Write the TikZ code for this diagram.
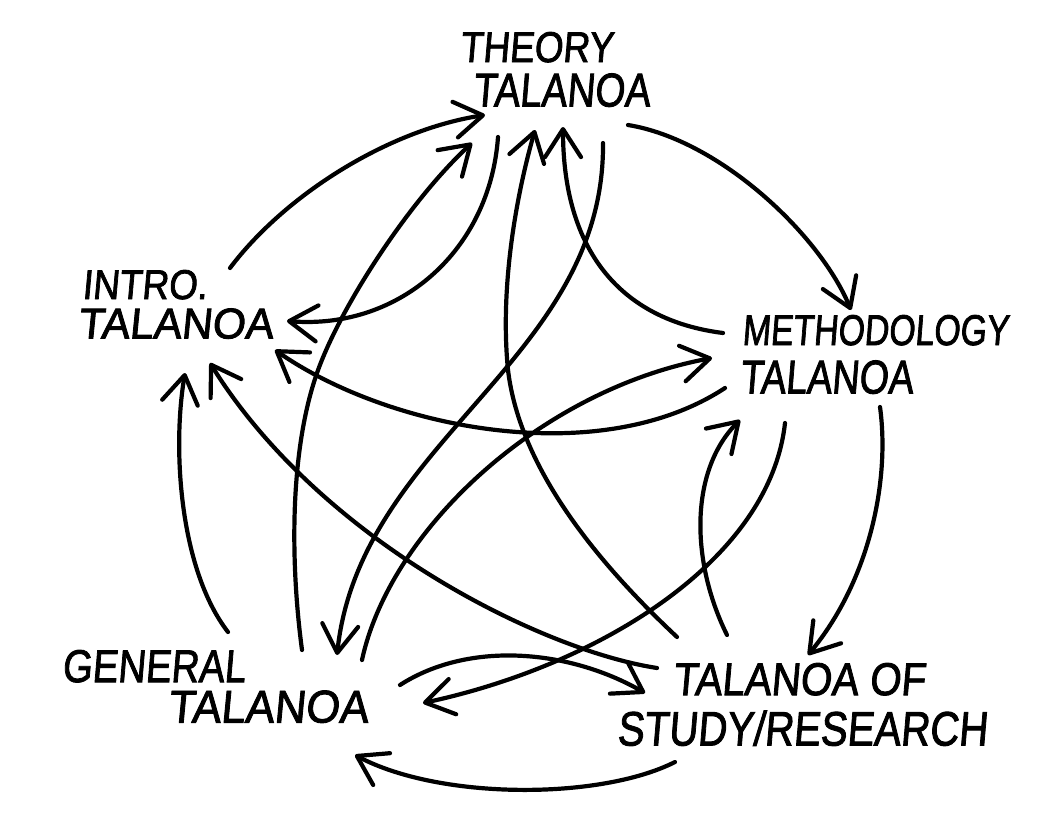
\documentclass[tikz,border=0pt]{standalone}
\usepackage{fontspec}
\usepackage{graphicx}
\newfontfamily\hand[FakeSlant=0.1,FakeBold=2]{Liberation Sans}
\usetikzlibrary{arrows.meta,calc}
\newcommand{\hw}[3]{\resizebox{#1pt}{#2pt}{\hand #3}}
\tikzset{
 lbl/.style={inner sep=0pt, outer sep=0pt, align=left, anchor=north west, font=\fontsize{2pt}{2pt}\selectfont},
 link/.style={line width=4.2pt, line cap=round, -{Straight Barb[length=28pt,width=36pt,round]}},
}
\begin{document}
\begin{tikzpicture}[x=1pt,y=-1pt]
\fill[white] (0,0) rectangle (1049,819);
\useasboundingbox (0,0) rectangle (1049,819);
\node[lbl] (T) at (460,32) {\hw{153}{30}{THEORY}\\[10pt]\hspace*{13pt}\hw{177}{33}{TALANOA}};
\node[lbl] (I) at (78,270) {\hspace*{4pt}\hw{125}{29}{INTRO.}\\[8pt]\hw{195}{30}{TALANOA}};
\node[lbl] (M) at (740,315) {\hspace*{2pt}\hw{266}{30}{METHODOLOGY}\\[14pt]\hw{173}{33}{TALANOA}};
\node[lbl] (G) at (62,650) {\hw{183}{32}{GENERAL}\\[7pt]\hspace*{106pt}\hw{200}{32}{TALANOA}};
\node[lbl] (S) at (617,663) {\hspace*{56pt}\hw{252}{32}{TALANOA OF}\\[14pt]\hw{370}{35}{STUDY/RESEARCH}};
% outer ring
\draw[link] ($(I.north west)+(152,-2)$) .. controls +(55,-73) and +(-97,15) .. ($(T.north west)+(25,83)$);
\draw[link] ($(T.north west)+(168,93)$) .. controls +(92,15) and +(-31,-75) .. ($(M.north west)+(111,-5)$);
\draw[link] ($(M.north west)+(140,92)$) .. controls +(10,73) and +(62,-75) .. ($(S.north west)+(191,-8)$);
\draw[link] ($(S.north west)+(58,99)$) .. controls +(-75,38) and +(85,45) .. ($(G.north west)+(293,105)$);
\draw[link] ($(G.north west)+(166,-18)$) .. controls +(-48,-62) and +(-13,77) .. ($(I.north west)+(107,103)$);
% inner links
\draw[link] ($(T.north west)+(38,105)$) .. controls +(-8,113) and +(113,9) .. ($(I.north west)+(209,51)$);
\draw[link] ($(M.north west)+(-15,73)$) .. controls +(-125,82) and +(115,80) .. ($(I.north west)+(197,80)$);
\draw[link] ($(S.north west)+(40,5)$) .. controls +(-117,-18) and +(110,177) .. ($(I.north west)+(132,93)$);
\draw[link] ($(G.north west)+(240,0)$) .. controls +(-12,-90) and +(-27,77) .. (317,373) .. controls +(23,-66) and +(-62,57) .. ($(T.north west)+(12,111)$);
\draw[link] ($(S.north west)+(60,-26)$) .. controls +(-77,-72) and +(12,100) .. (508,370) .. controls +(-8,-80) and +(-20,70) .. ($(T.north west)+(75,98)$);
\draw[link] ($(M.north west)+(-17,18)$) .. controls +(-103,-13) and +(0,123) .. ($(T.north west)+(103,95)$);
\draw[link] ($(T.north west)+(143,111)$) .. controls +(2,217) and +(23,-215) .. ($(G.north west)+(275,5)$);
\draw[link] ($(G.north west)+(300,10)$) .. controls +(28,-130) and +(-172,32) .. ($(M.north west)+(-28,43)$);
\draw[link] ($(M.north west)+(45,108)$) .. controls +(-15,137) and +(177,-38) .. ($(G.north west)+(361,53)$);
\draw[link] ($(S.north west)+(110,-28)$) .. controls +(-37,-75) and +(-50,50) .. ($(M.north west)+(0,105)$);
\draw[link] ($(G.north west)+(338,35)$) .. controls +(70,-45) and +(-75,-43) .. ($(S.north west)+(28,30)$);
\end{tikzpicture}
\end{document}
